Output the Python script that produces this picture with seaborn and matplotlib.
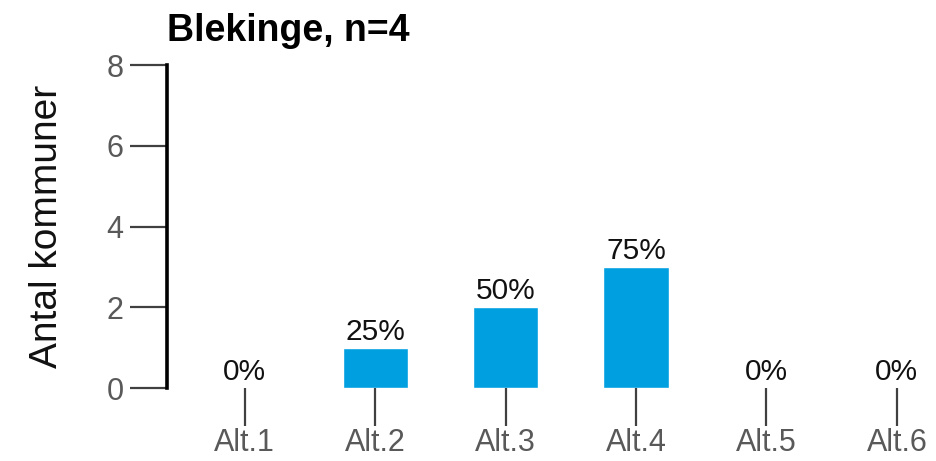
import matplotlib
matplotlib.use("Agg")
import matplotlib.pyplot as plt
import pandas as pd
import seaborn as sns

# data
categories = ["Alt.1", "Alt.2", "Alt.3", "Alt.4", "Alt.5", "Alt.6"]
counts = [0, 1, 2, 3, 0, 0]
pct_labels = ["0%", "25%", "50%", "75%", "0%", "0%"]
y_ticks = [0, 2, 4, 6, 8]

sns.set_style("white")
plt.rcParams["font.family"] = ["Liberation Sans", "DejaVu Sans"]

df = pd.DataFrame({"alt": categories, "n": counts})

fig = plt.figure(figsize=(9.36, 4.61), dpi=100)
ax = fig.add_axes([0.178, 0.158, 0.822, 0.701])

sns.barplot(data=df, x="alt", y="n", color="#009FE0", width=0.5,
            saturation=1, ax=ax)

for i, (v, lab) in enumerate(zip(counts, pct_labels)):
    ax.text(i, v + 0.05, lab, ha="center", va="bottom", fontsize=21.5, color="#111111")

ax.set_xlim(-0.6, 5.3)
ax.set_ylim(0, 8)
ax.set_yticks(y_ticks)

for s in ["top", "right", "bottom"]:
    ax.spines[s].set_visible(False)
ax.spines["left"].set_linewidth(2.6)
ax.spines["left"].set_color("black")

ax.tick_params(axis="both", direction="out", length=27, width=1.6,
               bottom=True, left=True,
               color="#404040", labelcolor="#595959", labelsize=22)
ax.tick_params(axis="y", pad=4)
ax.tick_params(axis="x", pad=2)

ax.set_xlabel("")
ax.set_ylabel("Antal kommuner", fontsize=28, color="#111111", labelpad=30)
ax.set_title("Blekinge, n=4", loc="left", fontsize=27, fontweight="bold",
             color="black", pad=17)

fig.savefig("out.png", dpi=100)
